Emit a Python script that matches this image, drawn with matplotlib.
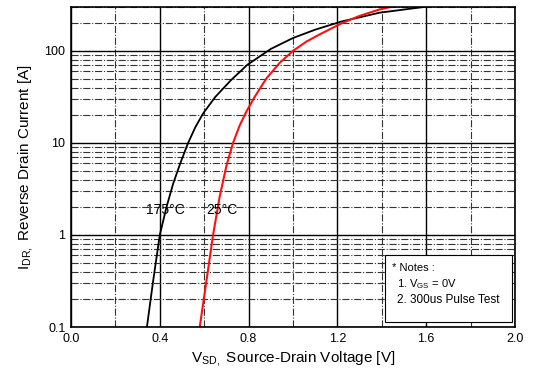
import numpy as np
import matplotlib.pyplot as plt
from matplotlib.patches import Rectangle
from matplotlib.ticker import FixedLocator, NullFormatter

plt.rcParams['font.family'] = ['Liberation Sans', 'DejaVu Sans']
plt.rcParams['mathtext.fontset'] = 'custom'
plt.rcParams['mathtext.rm'] = 'Liberation Sans'

# Data
v_175 = [0.342, 0.37, 0.40, 0.43, 0.46, 0.49, 0.526, 0.56, 0.595, 0.65, 0.72, 0.795,
         0.90, 1.00, 1.10, 1.22, 1.39, 1.59]
i_175 = [0.1, 0.316, 1.0, 2.0, 3.6, 5.8, 9.8, 14.8, 20.9, 31.6, 47.9, 70.8,
         105, 138, 170, 209, 260, 300]

v_25 = [0.58, 0.61, 0.64, 0.67, 0.70, 0.73, 0.76, 0.79, 0.83, 0.88, 0.94, 1.00,
        1.06, 1.12, 1.22, 1.30, 1.39, 1.44]
i_25 = [0.1, 0.316, 1.0, 2.63, 5.62, 10, 15.5, 21.9, 32.4, 50.1, 74.1, 100,
        126, 151, 200, 240, 282, 300]

x_ticks = [0.0, 0.4, 0.8, 1.2, 1.6, 2.0]
y_ticks = [0.1, 1, 10, 100]
y_labels = ['0.1', '1', '10', '100']

fig = plt.figure(figsize=(5.33, 3.81), dpi=100)
ax = fig.add_axes([0.1332, 0.1417, 0.833, 0.840])

ax.set_yscale('log')
ax.set_xlim(0, 2.0)
ax.set_ylim(0.1, 300)

ax.set_xticks(x_ticks)
ax.set_xticklabels(['%.1f' % x for x in x_ticks])
ax.xaxis.set_minor_locator(FixedLocator([0.2, 0.6, 1.0, 1.4, 1.8]))
ax.set_yticks(y_ticks)
ax.set_yticklabels(y_labels)
minors = [m * 10.0 ** e for e in range(-1, 3) for m in range(2, 10)]
ax.yaxis.set_minor_locator(FixedLocator(minors))
ax.yaxis.set_minor_formatter(NullFormatter())

ax.grid(which='major', color='black', linestyle='-', linewidth=1.0)
ax.grid(which='minor', color='#333333', linestyle='-.', linewidth=0.8)
ax.tick_params(which='both', length=0, labelsize=9, pad=4)
for s in ax.spines.values():
    s.set_linewidth(1.2)

ax.plot(v_175, i_175, color='black', linewidth=1.3)
ax.plot(v_25, i_25, color='#ff1010', linewidth=1.5)

ax.text(0.425, 1.88, '175°C', fontsize=10, ha='center', va='center')
ax.text(0.68, 1.88, '25°C', fontsize=10, ha='center', va='center')

# notes box
ax.add_patch(Rectangle((0.707, 0.016), 0.286, 0.209, transform=ax.transAxes,
                       facecolor='white', edgecolor='black', linewidth=0.8, zorder=3))
ax.text(0.722, 0.185, '* Notes :', transform=ax.transAxes, fontsize=8, va='center', zorder=4)
ax.text(0.735, 0.134, r'1. V$_\mathrm{GS}$ = 0V', transform=ax.transAxes, fontsize=8, va='center', zorder=4)
ax.text(0.735, 0.084, '2. 300us Pulse Test', transform=ax.transAxes, fontsize=8.5, va='center', zorder=4)

ax.set_xlabel(r'V$_\mathrm{SD,}$ Source-Drain Voltage [V]', fontsize=11, labelpad=4)
ax.set_ylabel(r'I$_\mathrm{DR,}$ Reverse Drain Current [A]', fontsize=11, labelpad=6)

fig.savefig('out.png', dpi=100)
